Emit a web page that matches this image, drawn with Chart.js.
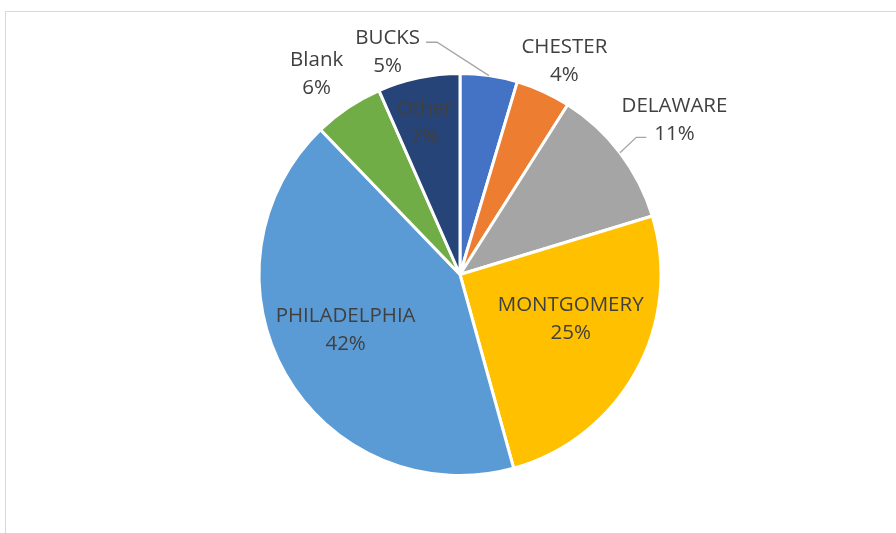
<!DOCTYPE html>
<html>
<head>
<meta charset="utf-8">
<script src="https://cdn.jsdelivr.net/npm/chart.js@4/dist/chart.umd.min.js"></script>
<style>
  html, body { margin: 0; padding: 0; background: #ffffff; }
  #wrap { position: relative; width: 896px; height: 533px; overflow: hidden; }
  #frame { position: absolute; left: 5px; top: 11px; width: 1000px; height: 1000px;
           border-top: 1px solid #d9d9d9; border-left: 1px solid #d9d9d9; box-sizing: border-box; }
  canvas { position: absolute; left: 0; top: 0; }
</style>
</head>
<body>
<div id="wrap">
  <div id="frame"></div>
  <canvas id="c" width="896" height="533"></canvas>
</div>
<script>
// ---- data ----
const categories = ["BUCKS", "CHESTER", "DELAWARE", "MONTGOMERY", "PHILADELPHIA", "Blank", "Other"];
const shares = [4.6, 4.4, 11.3, 25.4, 42.1, 5.6, 6.6];
const sliceColors = ["#4472C4", "#ED7D31", "#A5A5A5", "#FFC000", "#5B9BD5", "#70AD47", "#264478"];

// label placement relative to each slice (radius factor, angle shift in degrees)
const labelPlacement = [
  { r: 1.17, dAng: -26.2, leader: { dy: -8.5, side: "right", line: 0 } },
  { r: 1.19, dAng: 1.4 },
  { r: 1.32, dAng: 1.2, leader: { dy: 19, side: "left", line: 1 } },
  { r: 0.59, dAng: -7.7 },
  { r: 0.63, dAng: 4.3 },
  { r: 1.23, dAng: -1.6 },
  { r: 0.78, dAng: -1.1 }
];

const labelPlugin = {
  id: "excelLabels",
  afterDatasetsDraw(chart) {
    const ctx = chart.ctx;
    const meta = chart.getDatasetMeta(0);
    const data = chart.data.datasets[0].data;
    const total = data.reduce((a, b) => a + b, 0);
    ctx.save();
    ctx.font = "20.5px 'Open Sans'";
    ctx.textAlign = "center";
    ctx.textBaseline = "middle";
    meta.data.forEach((arc, i) => {
      const p = arc.getProps(["x", "y", "startAngle", "endAngle", "outerRadius"], true);
      const mid = (p.startAngle + p.endAngle) / 2;
      const pl = labelPlacement[i];
      const a = mid + pl.dAng * Math.PI / 180;
      const cx = p.x + Math.cos(a) * p.outerRadius * pl.r;
      const cy = p.y + Math.sin(a) * p.outerRadius * pl.r;
      const lines = [chart.data.labels[i], Math.round(data[i] / total * 100) + "%"];
      if (pl.leader) {
        const L = pl.leader;
        const w = ctx.measureText(lines[L.line]).width;
        const ly = cy + L.dy;
        let sx, ex;
        if (L.side === "right") { sx = cx + w / 2 + 6; ex = sx + 11; }
        else { sx = cx - w / 2 - 8; ex = sx - 10; }
        const ax = p.x + Math.cos(mid) * p.outerRadius;
        const ay = p.y + Math.sin(mid) * p.outerRadius;
        ctx.strokeStyle = "#a6a6a6";
        ctx.lineWidth = 1.3;
        ctx.beginPath();
        ctx.moveTo(sx, ly);
        ctx.lineTo(ex, ly);
        ctx.lineTo(ax, ay);
        ctx.stroke();
      }
      ctx.fillStyle = "#404040";
      ctx.fillText(lines[0], cx, cy - 12.5);
      ctx.fillText(lines[1], cx, cy + 15.5);
    });
    ctx.restore();
  }
};

new Chart(document.getElementById("c"), {
  type: "pie",
  data: {
    labels: categories,
    datasets: [{
      data: shares,
      backgroundColor: sliceColors,
      borderColor: "#ffffff",
      borderWidth: 3
    }]
  },
  options: {
    responsive: false,
    animation: false,
    radius: 201,
    layout: { padding: { top: 74, bottom: 58, left: 60, right: 36 } },
    plugins: { legend: { display: false }, tooltip: { enabled: false } }
  },
  plugins: [labelPlugin]
});
</script>
</body>
</html>
